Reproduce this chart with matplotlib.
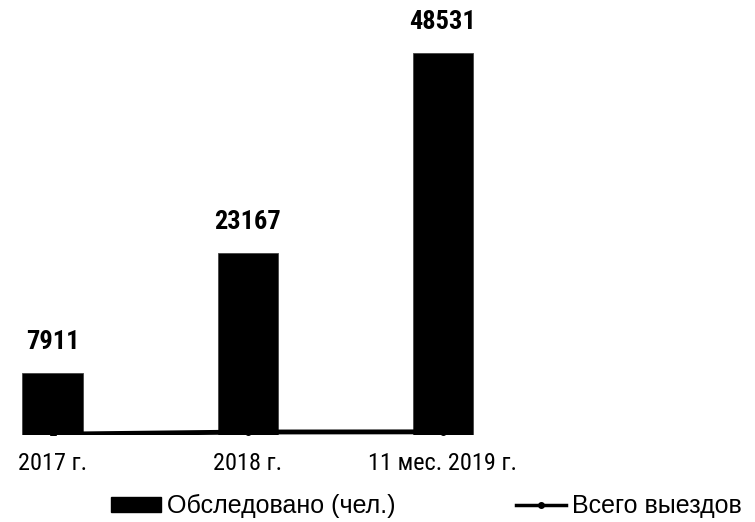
import matplotlib
matplotlib.use("Agg")
import matplotlib.pyplot as plt
from matplotlib.patches import Patch
from matplotlib.lines import Line2D

plt.rcParams['font.family'] = ['Liberation Sans Narrow', 'Arial Narrow', 'Roboto Condensed',
                               'Liberation Sans', 'DejaVu Sans']

categories = ["2017 г.", "2018 г.", "11 мес. 2019 г."]
examined = [7911, 23167, 48531]
trips = [100, 380, 400]

fig = plt.figure(figsize=(7.55, 5.22), dpi=100)
ax = fig.add_axes([0.0, 87 / 522, 1.0, 435 / 522])

x = list(range(len(categories)))
ax.bar(x, examined, width=0.31, color="black", edgecolor="#444444", linewidth=0.6, zorder=2)
ax.plot(x, trips, color="black", linewidth=3.5, marker="o", markersize=4, zorder=3)

for xi, v in zip(x, examined):
    ax.annotate(str(v), (xi, v), xytext=(0, 22), textcoords="offset points",
                ha="center", va="center", fontsize=19, fontweight="bold")

ax.set_xlim(-0.27, 3.6)
ax.set_ylim(0, 55265)
ax.set_xticks(x)
ax.set_xticklabels(categories, fontsize=17.5)
ax.tick_params(axis="x", length=0, pad=12)
ax.set_yticks([])
for s in ax.spines.values():
    s.set_visible(False)

handles = [Patch(facecolor="black", edgecolor="black"),
           Line2D([0], [0], color="black", linewidth=2.5, marker="o", markersize=4)]
fig.legend(handles, ["Обследовано (чел.)", "Всего выездов"], loc="center",
           bbox_to_anchor=(0.565, 0.03), ncol=2, frameon=False,
           prop={"family": ["Liberation Sans", "DejaVu Sans"], "size": 18},
           columnspacing=4.8, handlelength=2.0, handleheight=0.6, handletextpad=0.25)

fig.savefig("out.png", dpi=100)
